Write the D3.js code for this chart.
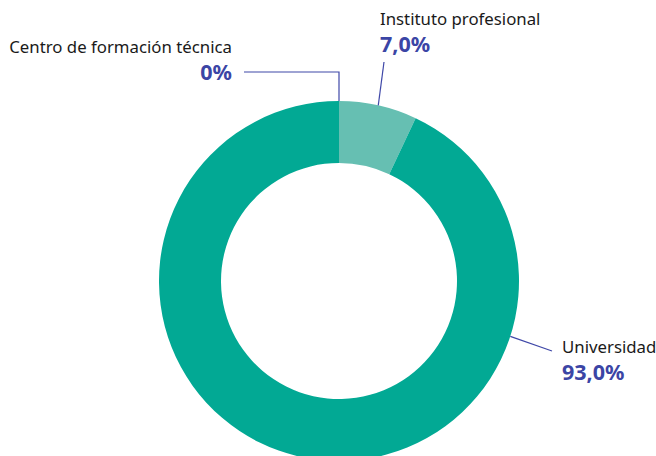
<!DOCTYPE html>
<meta charset="utf-8">
<style>
body { margin: 0; background: #fff; }
.name { font-family: "Noto Sans", sans-serif; font-size: 16.8px; fill: #1a1a1a; }
.pct { font-family: "Noto Sans", sans-serif; font-size: 21.5px; font-weight: bold; fill: #3b45a5; }
.leader { fill: none; stroke: #3f48a8; stroke-width: 1.2px; }
</style>
<body>
<svg width="656" height="456"></svg>
<script src="https://d3js.org/d3.v7.min.js"></script>
<script>

// data
var categories = ["Centro de formación técnica", "Instituto profesional", "Universidad"];
var values = [0, 7.0, 93.0];
var pctLabels = ["0%", "7,0%", "93,0%"];
var colors = ["#02a994", "#66bfb2", "#02a994"];

// layout
var cx = 339, cy = 281,
    outerR = 180, innerR = 118;

var svg = d3.select("svg");
var g = svg.append("g").attr("transform", "translate(" + cx + "," + cy + ")");

var pie = d3.pie().sort(null).value(function(d) { return d; });
var arc = d3.arc().innerRadius(innerR).outerRadius(outerR);

var arcs = pie(values);

g.selectAll("path.slice")
    .data(arcs)
  .enter().append("path")
    .attr("class", "slice")
    .attr("fill", function(d, i) { return colors[i]; })
    .attr("d", arc);

// where each leader line touches the ring (fraction along its slice)
var anchorFrac = [0, 0.5, 0.247];
// label placement: text x, name baseline y, anchor, leader end
var labelPos = [
  {x: 232, y: 53, anchor: "end",   end: [244, 72], elbow: true},
  {x: 380, y: 25, anchor: "start", end: [384, 62]},
  {x: 562, y: 353, anchor: "start", end: [552, 351]}
];

function ringPoint(d, i) {
  var a = d.startAngle + (d.endAngle - d.startAngle) * anchorFrac[i];
  return [cx + outerR * Math.sin(a), cy - outerR * Math.cos(a)];
}

arcs.forEach(function(d, i) {
  var p = ringPoint(d, i), L = labelPos[i];
  var pts;
  if (L.elbow) pts = [p, [p[0], L.end[1]], L.end];
  else pts = [p, L.end];
  svg.append("path")
      .attr("class", "leader")
      .attr("d", d3.line()(pts));

  svg.append("text")
      .attr("class", "name")
      .attr("x", L.x).attr("y", L.y)
      .attr("text-anchor", L.anchor)
      .text(categories[i]);

  svg.append("text")
      .attr("class", "pct")
      .attr("x", L.x).attr("y", L.y + 27)
      .attr("text-anchor", L.anchor)
      .text(pctLabels[i]);
});

</script>
</body>
